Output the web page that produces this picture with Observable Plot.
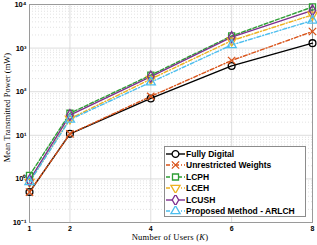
<!DOCTYPE html>
<html><head><meta charset="utf-8">
<script src="https://cdn.jsdelivr.net/npm/d3@7"></script>
<script src="https://cdn.jsdelivr.net/npm/@observablehq/plot@0.6"></script>
<style>
body{margin:0;background:#fff;}
#wrap{position:relative;width:317px;height:245px;}
#legend{position:absolute;left:164px;top:146px;width:142px;height:71px;border:1px solid #8c8c8c;background:#fff;box-sizing:border-box;padding-top:1px;}
.row{display:flex;align-items:center;height:11.5px;font:bold 8.5px "Liberation Sans",Arial,sans-serif;color:#000;white-space:nowrap;}
.row svg{margin-left:1px;margin-right:1px;}
#xlabel{position:absolute;left:0;width:340px;text-align:center;top:232px;font:8.6px "Liberation Serif","DejaVu Serif",serif;letter-spacing:0.2px;}
#ylabel{position:absolute;left:-93px;top:103px;width:200px;text-align:center;transform:rotate(-90deg);font:8.4px "Liberation Serif","DejaVu Serif",serif;letter-spacing:0.1px;}
</style></head>
<body><div id="wrap"></div>
<script>
const K = [1, 2, 4, 6, 8];
const fullyDigital = [0.5, 10.8, 70, 390, 1300];
const unrestricted = [0.5, 10.8, 78, 520, 2400];
const lcph = [1.2, 32, 240, 1900, 8800];
const lceh = [0.85, 24, 195, 1480, 5800];
const lcush = [0.92, 29, 222, 1780, 7300];
const arlch = [0.85, 23, 165, 1180, 4300];
const yTicks = [0.1, 1, 10, 100, 1000, 10000];
const yTickLabels = ["10\u207B\u00B9", "10\u2070", "10\u00B9", "10\u00B2", "10\u00B3", "10\u2074"];
const xTicks = [1, 2, 4, 6, 8];

const series = [
  {name: "Fully Digital", values: fullyDigital, color: "#000000", dash: null, symbol: "circle", rotate: 0},
  {name: "Unrestricted Weights", values: unrestricted, color: "#D95319", dash: "4,2,1,2", symbol: "times", rotate: 0},
  {name: "LCPH", values: lcph, color: "#2E9E35", dash: "4,2", symbol: "square", rotate: 0},
  {name: "LCEH", values: lceh, color: "#EDB120", dash: "4,2,1,2", symbol: "triangle", rotate: 180},
  {name: "LCUSH", values: lcush, color: "#7E2F8E", dash: null, symbol: "diamond", rotate: 0},
  {name: "Proposed Method - ARLCH", values: arlch, color: "#4DBEEE", dash: "4,2,1,2", symbol: "triangle", rotate: 0}
];

const minor = [];
for (const d of [0.1, 1, 10, 100, 1000]) for (let m = 2; m <= 9; m++) minor.push(d * m);

const marks = [
  Plot.ruleY(minor, {stroke: "#cfcfcf", strokeDasharray: "1,2", strokeWidth: 0.6}),
  Plot.gridY(yTicks, {stroke: "#d4d4d4", strokeOpacity: 1, strokeWidth: 0.8}),
  Plot.gridX(xTicks, {stroke: "#d4d4d4", strokeOpacity: 1, strokeWidth: 0.8}),
  Plot.frame({stroke: "#9a9a9a"}),
  Plot.axisY(yTicks, {tickFormat: (d) => yTickLabels[yTicks.indexOf(d)], tickSize: 0, tickPadding: 3, fontSize: 7.5, fontWeight: "bold", fontFamily: "Liberation Sans, Arial, sans-serif", label: null}),
  Plot.axisX(xTicks, {tickSize: 0, tickPadding: 4, fontSize: 7, fontWeight: "bold", fontFamily: "Liberation Sans, Arial, sans-serif", label: null})
];
for (const s of series) {
  const data = K.map((k, i) => ({k, v: s.values[i]}));
  marks.push(Plot.line(data, {x: "k", y: "v", stroke: s.color, strokeWidth: 1.4, strokeDasharray: s.dash}));
}
for (const s of series) {
  const data = K.map((k, i) => ({k, v: s.values[i]}));
  marks.push(Plot.dot(data, {x: "k", y: "v", stroke: s.color, fill: "none", strokeWidth: 1.3, symbol: s.symbol, r: 3.4, rotate: s.rotate}));
}

const chart = Plot.plot({
  width: 317, height: 245,
  marginLeft: 29, marginRight: 5, marginTop: 4, marginBottom: 23,
  x: {domain: [1, 8]},
  y: {type: "log", domain: [0.1, 10000]},
  style: {background: "#fff", overflow: "visible"},
  marks
});
const wrap = document.getElementById("wrap");
wrap.appendChild(chart);

const xl = document.createElement("div");
xl.id = "xlabel";
xl.innerHTML = "Number of Users (<i>K</i>)";
wrap.appendChild(xl);
const yl = document.createElement("div");
yl.id = "ylabel";
yl.textContent = "Mean Transmitted Power (mW)";
wrap.appendChild(yl);

const legend = document.createElement("div");
legend.id = "legend";
const symPath = {circle: d3.symbolCircle, times: d3.symbolTimes, square: d3.symbolSquare, triangle: d3.symbolTriangle, diamond: d3.symbolDiamond};
for (const s of series) {
  const row = document.createElement("div");
  row.className = "row";
  const svg = d3.create("svg").attr("width", 19).attr("height", 10);
  svg.append("line").attr("x1", 0).attr("x2", 19).attr("y1", 5).attr("y2", 5)
    .attr("stroke", s.color).attr("stroke-width", 1.4).attr("stroke-dasharray", s.dash);
  svg.append("path").attr("d", d3.symbol(symPath[s.symbol], Math.PI * 3.4 * 3.4)())
    .attr("transform", `translate(9.5,5) rotate(${s.rotate})`)
    .attr("fill", "#fff").attr("stroke", s.color).attr("stroke-width", 1.3);
  row.appendChild(svg.node());
  const t = document.createElement("span");
  t.textContent = s.name;
  row.appendChild(t);
  legend.appendChild(row);
}
wrap.appendChild(legend);
</script></body></html>
